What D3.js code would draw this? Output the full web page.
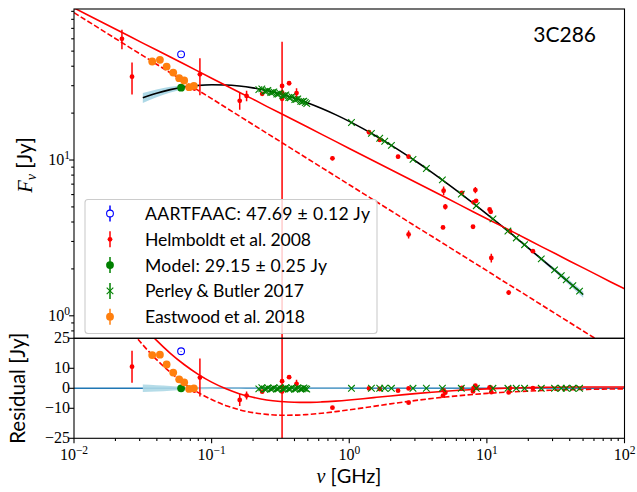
<!DOCTYPE html>
<html><head><meta charset="utf-8">
<script src="https://cdn.jsdelivr.net/npm/d3@7"></script>
<style>body{margin:0;background:#fff}svg{display:block}</style>
</head><body>
<script>
// ---------------- DATA ----------------
// model grid (GHz) and flux (Jy)
const gridNu = [0.01,0.01259,0.01585,0.01995,0.02512,0.03162,0.03981,0.05012,0.0631,0.07943,
  0.1,0.1259,0.1585,0.1995,0.2512,0.3162,0.3981,0.5012,0.631,0.7943,
  1,1.259,1.585,1.995,2.512,3.162,3.981,5.012,6.31,7.943,
  10,12.59,15.85,19.95,25.12,31.62,39.81,50.12,63.1,79.43,100];
const modelFlux = [13.96,16.23,18.56,20.86,23.05,25.07,26.84,28.30,29.40,30.11,
  30.43,30.34,29.88,29.06,27.93,26.55,24.97,23.24,21.42,19.56,
  17.71,15.90,14.16,12.52,11.00,9.60,8.33,7.19,6.18,5.28,
  4.50,3.82,3.24,2.73,2.30,1.94,1.63,1.37,1.155,0.972,0.819];
const modelErr = [0,0,0,0,0,1.88,1.56,1.19,0.82,0.51,
  0.30,0.21,0.18,0.15,0.14,0.13,0.12,0.11,0.10,0.09,
  0.08,0.07,0.07,0.06,0.06,0.06,0.05,0.05,0.05,0.04,
  0.036,0.038,0.042,0.046,0.051,0.054,0.059,0.062,0,0,0];
const powerLawSolid = [94.7,85.3,76.9,69.3,62.5,56.3,50.8,45.8,41.3,37.2,
  33.5,30.2,27.2,24.6,22.1,19.95,17.98,16.21,14.61,13.17,
  11.87,10.70,9.65,8.70,7.84,7.07,6.37,5.74,5.17,4.66,
  4.20,3.79,3.42,3.08,2.77,2.50,2.25,2.03,1.83,1.65,1.49];
const powerLawDashed = [88.3,77.8,68.5,60.3,53.1,46.8,41.2,36.3,31.9,28.1,
  24.8,21.8,19.2,16.9,14.89,13.11,11.54,10.16,8.95,7.88,
  6.94,6.11,5.38,4.74,4.17,3.67,3.24,2.85,2.51,2.21,
  1.95,1.71,1.51,1.33,1.17,1.03,0.907,0.799,0.704,0.619,0.545];
const modelBandRange = [0.0316, 50.2];

const aartNu = [0.06], aartF = [47.69], aartErr = [0.12];
const modelPtNu = [0.06], modelPtF = [29.15], modelPtErr = [0.25];

const helmNu = [0.0223,0.0264,0.0822,0.075,0.160,0.1795,0.233,0.325,0.325,0.325,0.3656,0.414,
  0.755,1.392,1.665,2.262,2.70,2.70,4.80,4.85,4.99,6.59,7.93,8.0,8.25,8.35,10.47,10.66,10.77,14.4,14.7,21.6];
const helmF = [60.0,34.3,35.5,28.8,24.0,25.8,26.6,29.9,27.1,24.7,31.1,26.9,
  10.26,15.07,13.45,10.5,10.5,3.33,3.69,6.35,5.01,6.16,3.73,5.35,6.41,5.47,4.82,4.65,2.35,1.41,3.49,2.60];
const helmErr = [8.5,8.0,9.5,1.0,3.0,2.0,0.5,0.5,30.3,0.5,0.5,2.0,
  0.3,0.3,0.3,0.3,0.3,0.2,0.1,0.4,0.2,0.1,0.1,0.1,0.3,0.1,0.1,0.1,0.15,0.05,0.05,0.05];

const pbNu = [0.2203,0.2316,0.2435,0.2497,0.2561,0.2692,0.2761,0.2830,0.2977,0.3052,0.3130,0.3291,0.3374,
  0.3459,0.3637,0.3729,0.3824,0.4021,0.4123,0.4227,0.4444,0.4558,0.4673,0.4792,0.4913,
  1.038,1.449,1.665,1.810,2.025,2.905,3.634,4.75,6.52,8.38,11.07,14.22,16.36,18.79,24.85,31.03,34.72,37.75,42.14,47.14];
const pbF = [28.3,28.6,27.6,27.7,28.0,27.1,27.2,27.4,26.5,26.5,26.9,25.9,25.9,
  26.2,25.2,25.1,25.5,24.4,24.5,24.7,23.8,23.7,23.9,23.4,23.0,
  17.41,14.83,13.80,13.20,12.42,10.10,8.82,7.45,6.04,5.09,4.19,3.50,3.16,2.86,2.32,1.97,1.81,1.70,1.56,1.44];

const eastNu = [0.0370,0.0421,0.0471,0.0526,0.0581,0.0632,0.0687,0.0743];
const eastF = [42.9,44.0,39.8,36.4,33.5,32.4,29.35,29.9];

const xDomain = [0.01, 100];
const yTopDomain = [0.717, 93.2];
const yResDomain = [-25, 25];
const xTickExp = [-2, -1, 0, 1, 2];
const yTopTickExp = [0, 1];
const yResTicks = [-25, -10, 0, 10, 25];
const legendLabels = ["AARTFAAC: 47.69 \u00b1 0.12 Jy", "Helmboldt et al. 2008",
  "Model: 29.15 \u00b1 0.25 Jy", "Perley & Butler 2017", "Eastwood et al. 2018"];
const sourceName = "3C286";

// ---------------- LAYOUT ----------------
const W = 637, H = 492;
const X0 = 74, X1 = 624.5;
const TY0 = 9, TY1 = 338.3, BY0 = 338.3, BY1 = 438.3;
const SANS = "Lato, 'DejaVu Sans', sans-serif";
const SERIF = "'Liberation Serif', 'DejaVu Serif', serif";
const RED = "#ff0000", GREEN = "#008000", BLUE = "#0000ff", ORANGE = "#ff7f0e", C0 = "#1f77b4";

const svg = d3.select("body").append("svg").attr("width", W).attr("height", H);
const x = d3.scaleLog().domain(xDomain).range([X0, X1]);
const yT = d3.scaleLog().domain(yTopDomain).range([TY1, TY0]);
const yR = d3.scaleLinear().domain(yResDomain).range([BY1, BY0]);

const defs = svg.append("defs");
defs.append("clipPath").attr("id", "clipT").append("rect").attr("x", X0).attr("y", TY0).attr("width", X1 - X0).attr("height", TY1 - TY0);
defs.append("clipPath").attr("id", "clipB").append("rect").attr("x", X0).attr("y", BY0).attr("width", X1 - X0).attr("height", BY1 - BY0);

const gT = svg.append("g").attr("clip-path", "url(#clipT)");
const gB = svg.append("g").attr("clip-path", "url(#clipB)");

const grid = gridNu.map((nu, i) => ({nu, m: modelFlux[i], e: modelErr[i], s: powerLawSolid[i], d: powerLawDashed[i]}));
const inBand = grid.filter(d => d.nu >= modelBandRange[0] && d.nu <= modelBandRange[1]);

// interpolate the model curve (log-log) at a data frequency, for residuals
function modelAt(nu) {
  const L = Math.log10(nu);
  for (let i = 0; i < gridNu.length - 1; i++) {
    const a = Math.log10(gridNu[i]), b = Math.log10(gridNu[i + 1]);
    if (L >= a && L <= b) {
      const t = (L - a) / (b - a);
      return Math.pow(10, Math.log10(modelFlux[i]) * (1 - t) + Math.log10(modelFlux[i + 1]) * t);
    }
  }
  return NaN;
}

const curve = d3.curveMonotoneX;
// ---- top panel ----
gT.append("path").datum(inBand)
  .attr("d", d3.area().curve(curve).x(d => x(d.nu)).y0(d => yT(d.m - d.e)).y1(d => yT(d.m + d.e)))
  .attr("fill", "#add8e6");
gT.append("path").datum(inBand)
  .attr("d", d3.line().curve(curve).x(d => x(d.nu)).y(d => yT(d.m)))
  .attr("fill", "none").attr("stroke", "#000").attr("stroke-width", 1.6);
gT.append("path").datum(grid)
  .attr("d", d3.line().x(d => x(d.nu)).y(d => yT(d.s)))
  .attr("fill", "none").attr("stroke", RED).attr("stroke-width", 1.6);
gT.append("path").datum(grid)
  .attr("d", d3.line().x(d => x(d.nu)).y(d => yT(d.d)))
  .attr("fill", "none").attr("stroke", RED).attr("stroke-width", 1.6).attr("stroke-dasharray", "5.5,2.4");

// ---- bottom panel ----
gB.append("line").attr("x1", X0).attr("x2", X1).attr("y1", yR(0)).attr("y2", yR(0))
  .attr("stroke", C0).attr("stroke-width", 1.6);
gB.append("path").datum(inBand)
  .attr("d", d3.area().curve(curve).x(d => x(d.nu)).y0(d => yR(-d.e)).y1(d => yR(d.e)))
  .attr("fill", "#add8e6").attr("opacity", 0.9);
gB.append("path").datum(grid)
  .attr("d", d3.line().curve(curve).x(d => x(d.nu)).y(d => yR(d.s - d.m)))
  .attr("fill", "none").attr("stroke", RED).attr("stroke-width", 1.6);
gB.append("path").datum(grid)
  .attr("d", d3.line().curve(curve).x(d => x(d.nu)).y(d => yR(d.d - d.m)))
  .attr("fill", "none").attr("stroke", RED).attr("stroke-width", 1.6).attr("stroke-dasharray", "5.5,2.4");

// ---- markers ----
function errbars(g, ys, nus, fs, errs, color, resid) {
  nus.forEach((nu, i) => {
    const e = errs ? errs[i] : 0;
    if (!e) return;
    const base = resid ? fs[i] - modelAt(nu) : fs[i];
    const lo = base - e, hi = base + e;
    const ylo = resid ? ys(lo) : (lo > 0 ? ys(lo) : TY1 + 200);
    g.append("line").attr("x1", x(nu)).attr("x2", x(nu)).attr("y1", ylo).attr("y2", ys(hi))
      .attr("stroke", color).attr("stroke-width", 1.5);
  });
}
function dots(g, ys, nus, fs, r, color, resid, open) {
  nus.forEach((nu, i) => {
    const v = resid ? fs[i] - modelAt(nu) : fs[i];
    g.append("circle").attr("cx", x(nu)).attr("cy", ys(v)).attr("r", r)
      .attr("fill", open ? "none" : color).attr("stroke", color).attr("stroke-width", open ? 1.1 : 0);
  });
}
function crosses(g, ys, nus, fs, s, color, resid) {
  nus.forEach((nu, i) => {
    const v = resid ? fs[i] - modelAt(nu) : fs[i];
    const cx = x(nu), cy = ys(v);
    g.append("path").attr("d", `M${cx - s},${cy - s}L${cx + s},${cy + s}M${cx - s},${cy + s}L${cx + s},${cy - s}`)
      .attr("stroke", color).attr("stroke-width", 1.1).attr("fill", "none");
  });
}

[[gT, yT, false], [gB, yR, true]].forEach(([g, ys, resid]) => {
  errbars(g, ys, aartNu, aartF, aartErr, BLUE, resid);
  dots(g, ys, aartNu, aartF, 3.4, BLUE, resid, true);
  errbars(g, ys, helmNu, helmF, helmErr, RED, resid);
  dots(g, ys, helmNu, helmF, 2.4, RED, resid, false);
  errbars(g, ys, modelPtNu, modelPtF, modelPtErr, GREEN, resid);
  dots(g, ys, modelPtNu, modelPtF, 3.9, GREEN, resid, false);
  crosses(g, ys, pbNu, pbF, 3.3, GREEN, resid);
  dots(g, ys, eastNu, eastF, 3.9, ORANGE, resid, false);
});

// ---- frames & axes ----
const AX = "#000";
svg.append("rect").attr("x", X0).attr("y", TY0).attr("width", X1 - X0).attr("height", TY1 - TY0)
  .attr("fill", "none").attr("stroke", AX).attr("stroke-width", 1.1);
svg.append("rect").attr("x", X0).attr("y", BY0).attr("width", X1 - X0).attr("height", BY1 - BY0)
  .attr("fill", "none").attr("stroke", AX).attr("stroke-width", 1.1);

function minorLogs(lo, hi) {
  const out = [];
  for (let e = Math.floor(Math.log10(lo)); e <= Math.ceil(Math.log10(hi)); e++)
    for (let k = 2; k <= 9; k++) { const v = k * Math.pow(10, e); if (v > lo && v < hi) out.push(v); }
  return out;
}
const ticks = svg.append("g").attr("stroke", AX).attr("stroke-width", 1.1);
xTickExp.forEach(e => ticks.append("line").attr("x1", x(Math.pow(10, e))).attr("x2", x(Math.pow(10, e))).attr("y1", BY1).attr("y2", BY1 + 4.9));
minorLogs(xDomain[0], xDomain[1]).forEach(v => ticks.append("line").attr("x1", x(v)).attr("x2", x(v)).attr("y1", BY1).attr("y2", BY1 + 2.8));
yTopTickExp.forEach(e => ticks.append("line").attr("x1", X0 - 4.9).attr("x2", X0).attr("y1", yT(Math.pow(10, e))).attr("y2", yT(Math.pow(10, e))));
minorLogs(yTopDomain[0], yTopDomain[1]).forEach(v => ticks.append("line").attr("x1", X0 - 2.8).attr("x2", X0).attr("y1", yT(v)).attr("y2", yT(v)));
yResTicks.forEach(v => ticks.append("line").attr("x1", X0 - 4.9).attr("x2", X0).attr("y1", yR(v)).attr("y2", yR(v)));

const TICKFS = 16;
function powLabel(g, xp, yp, exp, anchor) {
  const t = g.append("text").attr("x", xp).attr("y", yp).attr("text-anchor", anchor)
    .attr("font-family", SERIF).attr("font-size", TICKFS).attr("fill", "#000");
  t.append("tspan").text("10");
  t.append("tspan").attr("dy", -6.5).attr("font-size", 11.5).text(exp < 0 ? "\u2212" + (-exp) : String(exp));
  return t;
}
const labs = svg.append("g");
xTickExp.forEach(e => powLabel(labs, x(Math.pow(10, e)), 460, e, "middle"));
yTopTickExp.forEach(e => powLabel(labs, 70, yT(Math.pow(10, e)) + 5.3, e, "end"));
yResTicks.forEach(v => labs.append("text").attr("x", 70).attr("y", yR(v) + 5).attr("text-anchor", "end")
  .attr("font-family", SERIF).attr("font-size", TICKFS).text(v < 0 ? "\u2212" + (-v) : String(v)));

// axis labels
const xl = svg.append("text").attr("x", 349).attr("y", 482.5).attr("text-anchor", "middle")
  .attr("font-family", SANS).attr("font-size", 20);
xl.append("tspan").attr("font-family", SERIF).attr("font-style", "italic").text("\u03bd");
xl.append("tspan").text(" [GHz]");

const yl = svg.append("text").attr("transform", "translate(32,165) rotate(-90)").attr("text-anchor", "middle")
  .attr("font-family", SANS).attr("font-size", 20.5);
yl.append("tspan").attr("font-family", SERIF).attr("font-style", "italic").text("F");
yl.append("tspan").attr("font-family", SERIF).attr("font-style", "italic").attr("font-size", 14).attr("dy", 4).text("\u03bd");
yl.append("tspan").attr("dy", -4).text(" [Jy]");

svg.append("text").attr("transform", "translate(25," + ((BY0 + BY1) / 2) + ") rotate(-90)").attr("text-anchor", "middle")
  .attr("font-family", SANS).attr("font-size", 20.5).text("Residual [Jy]");

svg.append("text").attr("x", 596).attr("y", 42).attr("text-anchor", "end")
  .attr("font-family", SANS).attr("font-size", 21).text(sourceName);

// ---- legend ----
const lg = svg.append("g");
lg.append("rect").attr("x", 85).attr("y", 199.5).attr("width", 292).attr("height", 134).attr("rx", 3)
  .attr("fill", "#fff").attr("fill-opacity", 0.8).attr("stroke", "#cccccc").attr("stroke-width", 1.1);
const legStyles = [
  {c: BLUE, m: "open", w: 225}, {c: RED, m: "dot", w: 166}, {c: GREEN, m: "big", w: 182},
  {c: GREEN, m: "x", w: 159}, {c: ORANGE, m: "big", w: 160}];
legendLabels.forEach((lab, i) => {
  const cy = 213.5 + i * 25.8, hx = 110;
  const st = legStyles[i];
  lg.append("line").attr("x1", hx).attr("x2", hx).attr("y1", cy - 8).attr("y2", cy + 8).attr("stroke", st.c).attr("stroke-width", 1.5);
  if (st.m === "open") lg.append("circle").attr("cx", hx).attr("cy", cy).attr("r", 3.4).attr("fill", "#fff").attr("stroke", st.c).attr("stroke-width", 1.1);
  if (st.m === "dot") lg.append("circle").attr("cx", hx).attr("cy", cy).attr("r", 2.4).attr("fill", st.c);
  if (st.m === "big") lg.append("circle").attr("cx", hx).attr("cy", cy).attr("r", 3.9).attr("fill", st.c);
  if (st.m === "x") lg.append("path").attr("d", `M${hx - 3.3},${cy - 3.3}L${hx + 3.3},${cy + 3.3}M${hx - 3.3},${cy + 3.3}L${hx + 3.3},${cy - 3.3}`).attr("stroke", st.c).attr("stroke-width", 1.1);
  lg.append("text").attr("x", 145).attr("y", cy + 6.5).attr("font-family", SANS).attr("font-size", 17.6)
    .attr("textLength", st.w).attr("lengthAdjust", "spacing").text(lab);
});
</script>
</body></html>
